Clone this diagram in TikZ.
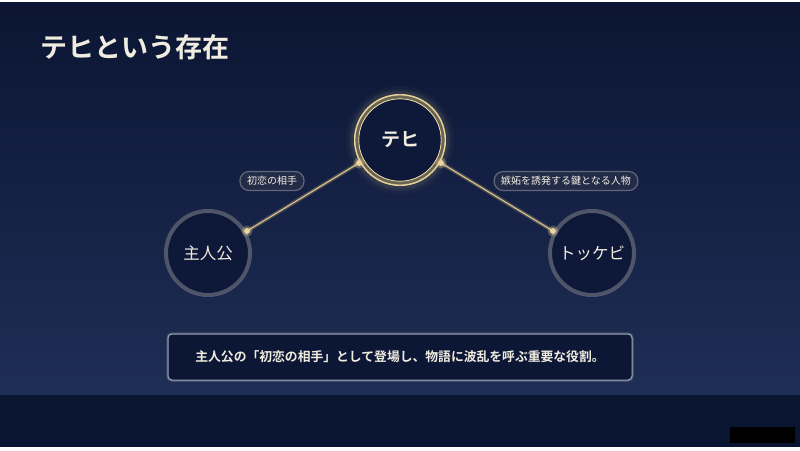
\documentclass[tikz,border=0pt]{standalone}
\usepackage{fontspec}
\setmainfont{Noto Sans CJK JP}
\newfontfamily\jpb{Noto Sans CJK JP Bold}
\usetikzlibrary{calc}
\definecolor{bgtop}{HTML}{0B1533}
\definecolor{bgbot}{HTML}{1F2E56}
\definecolor{band}{HTML}{0A1532}
\definecolor{gold}{HTML}{E9D49C}
\definecolor{goldline}{HTML}{D8BF86}
\definecolor{ringmid}{HTML}{6A6452}
\definecolor{ringgray}{HTML}{50566A}
\definecolor{innerfill}{HTML}{0E1838}
\definecolor{txt}{HTML}{F1ECE0}
\begin{document}
\begin{tikzpicture}[x=1pt,y=-1pt,
  circ/.style={circle,minimum size=84pt,inner sep=0pt,fill=innerfill,text=txt,font=\fontsize{16.5}{18}\selectfont},
  pill/.style={rounded corners=9pt,minimum height=19pt,inner xsep=7pt,fill=white!10!bgtop,draw=white!35!bgtop,line width=1.2pt,text=txt!90,font=\fontsize{10}{11}\selectfont},
  conn/.style={draw=goldline,line width=1.2pt},
  dotn/.style={circle,fill=gold,inner sep=0pt,minimum size=6pt}
]
\useasboundingbox (0,0) rectangle (800,450);
\shade[top color=bgtop,bottom color=bgbot] (0,0) rectangle (800,395);
\fill[band] (0,395) rectangle (800,450);
\fill[white] (0,0) rectangle (800,2);
\fill[white] (0,447) rectangle (800,450);
\fill[black] (730,427) rectangle (795,443);

\node[anchor=west,text=txt,font=\jpb\fontsize{27}{30}\selectfont] (title) at (37,47) {テヒという存在};

% glow for Teh
\foreach \r/\o in {54/0.03,51/0.05,49/0.07} {\fill[gold,opacity=\o] (400,140) circle (\r);}
\fill[ringmid] (400,140) circle (46);
\node[circ,minimum size=82pt] (tehi) at (400,140) {\jpb\fontsize{19}{21}\selectfont テヒ};
\draw[gold,line width=1.4pt] (tehi.center) circle (45.3);
\draw[gold!85,line width=0.8pt] (tehi.center) circle (41.2);

\node[circ,draw=ringgray,line width=4pt] (hero) at (208,253) {主人公};
\node[circ,draw=ringgray,line width=4pt] (tok) at (592,253) {トッケビ};

\coordinate (t1) at ($(tehi.center)+(-41,23)$);
\coordinate (t2) at ($(tehi.center)+(41,23)$);
\coordinate (h1) at ($(hero.center)+(39,-22)$);
\coordinate (k1) at ($(tok.center)+(-39,-22)$);
\foreach \a/\b in {t1/h1,t2/k1} {
  \draw[goldline,opacity=0.25,line width=4pt] (\a) -- (\b);
  \draw[conn] (\a) -- (\b);
}
\foreach \c in {t1,t2,h1,k1} {
  \fill[gold,opacity=0.3] (\c) circle (5.5);
  \node[dotn] (d\c) at (\c) {};
}

\node[pill] (l1) at (272,181) {初恋の相手};
\node[pill] (l2) at (566,181) {嫉妬を誘発する鍵となる人物};

\draw[white!60!bgbot,opacity=0.4,line width=3pt,rounded corners=4pt] (168,334) rectangle (632,380);
\node[draw=white!55!bgbot,line width=1pt,rounded corners=4pt,fill=band!90!bgbot,minimum width=464pt,minimum height=46pt,text=txt,font=\jpb\fontsize{12.8}{14}\selectfont] (note) at (400,357) {主人公の「初恋の相手」として登場し、物語に波乱を呼ぶ重要な役割。};
\end{tikzpicture}
\end{document}
